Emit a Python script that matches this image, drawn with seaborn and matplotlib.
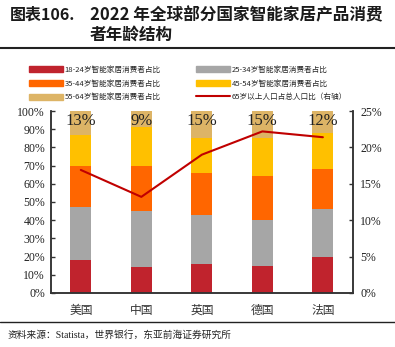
#!/usr/bin/env python3
"""2022 smart home consumer age structure by country: stacked bars + line on twin axis."""

import numpy as np
import pandas as pd
import seaborn as sns
import matplotlib.pyplot as plt

# --- data ---
countries = ['美国', '中国', '英国', '德国', '法国']
age_18_24 = [18, 14, 16, 15, 20]
age_25_34 = [29, 31, 27, 25, 26]
age_35_44 = [23, 25, 23, 24, 22]
age_45_54 = [17, 21, 19, 21, 20]
age_55_64 = [13, 9, 15, 15, 12]
over_65_share = [16.9, 13.2, 19.0, 22.2, 21.4]

series_names = [
    '18-24岁智能家居消费者占比',
    '25-34岁智能家居消费者占比',
    '35-44岁智能家居消费者占比',
    '45-54岁智能家居消费者占比',
    '55-64岁智能家居消费者占比',
]
line_name = '65岁以上人口占总人口比（右轴）'
COLORS = ['#C0232D', '#A6A6A6', '#FF6600', '#FFC000', '#DDB466']
LINE_COLOR = '#C00000'

sns.set_theme(style='white')
plt.rcParams['font.family'] = ['Liberation Serif', 'Noto Sans CJK SC', 'DejaVu Sans']
CJK = ['Noto Sans CJK SC', 'DejaVu Sans']

df = pd.DataFrame({'country': countries})
for name, vals in zip(series_names, [age_18_24, age_25_34, age_35_44, age_45_54, age_55_64]):
    df[name] = vals

fig = plt.figure(figsize=(3.95, 3.47), dpi=100)
ax = fig.add_axes([0.128, 0.156, 0.766, 0.524])

# stacked bars: draw cumulative totals from the top down so the bars overlap correctly
cum = df[series_names].cumsum(axis=1)
handles = []
for name, color in reversed(list(zip(series_names, COLORS))):
    sns.barplot(x=df['country'], y=cum[name], color=color, width=0.35,
                saturation=1, ax=ax, zorder=2, edgecolor='none')
    handles.insert(0, plt.Rectangle((0, 0), 1, 1, color=color, label=name))

# label of the top segment
for i, v in enumerate(age_55_64):
    ax.text(i, 94.5, f'{v}%', ha='center', va='center', fontsize=12,
            family='Liberation Serif', color='#222222', zorder=5)

ax.set_ylim(0, 100)
ax.set_xlim(-0.5, 4.5)
ax.set_yticks(np.arange(0, 101, 10))
ax.set_yticklabels([f'{t}%' for t in range(0, 101, 10)], fontsize=8.5, color='#222222')
ax.set_xlabel('')
ax.set_ylabel('')
ax.set_xticks(range(len(countries)))
ax.set_xticklabels(countries, family=CJK, fontsize=8.5, color='#333333')
ax.tick_params(axis='x', length=0, pad=8)
ax.tick_params(axis='y', direction='in', length=3, width=1, color='#333333', pad=4)

ax2 = ax.twinx()
sns.lineplot(x=list(range(len(countries))), y=over_65_share, color=LINE_COLOR,
             linewidth=1.5, ax=ax2, zorder=4)
ax2.set_ylim(0, 25)
ax2.set_yticks(np.arange(0, 26, 5))
ax2.set_yticklabels([f'{t}%' for t in range(0, 26, 5)], fontsize=8.5, color='#222222')
ax2.tick_params(axis='y', direction='in', length=3, width=1, color='#333333', pad=5)
ax2.set_ylabel('')

for a in (ax, ax2):
    a.spines['top'].set_visible(False)
    for s in ('left', 'right', 'bottom'):
        a.spines[s].set_color('#333333')
        a.spines[s].set_linewidth(1.1)

line_handle = plt.Line2D([0], [0], color=LINE_COLOR, linewidth=1.5, label=line_name)
leg_handles = handles + [line_handle]
# order so that the 2-column legend reads row-wise
order = [0, 2, 4, 1, 3, 5]
fig.legend([leg_handles[i] for i in order], [leg_handles[i].get_label() for i in order],
           ncol=2, loc='upper left', bbox_to_anchor=(0.055, 0.83), frameon=False,
           prop={'family': CJK, 'size': 5.5}, handlelength=4.5, handleheight=0.9,
           columnspacing=4.6, labelspacing=0.75, handletextpad=0.2)

# title block
fig.text(0.025, 0.957, '图表106.', fontsize=11.5, fontweight='bold', family=CJK,
         color='#1a1a1a', va='center')
fig.text(0.228, 0.957, '2022 年全球部分国家智能家居产品消费', fontsize=12,
         fontweight='bold', family=CJK, color='#1a1a1a', va='center')
fig.text(0.228, 0.899, '者年龄结构', fontsize=12, fontweight='bold', family=CJK,
         color='#1a1a1a', va='center')
fig.add_artist(plt.Line2D([0.0, 1.0], [0.862, 0.862], color='#222222', linewidth=1.5))

# footer
fig.add_artist(plt.Line2D([0.0, 1.0], [0.072, 0.072], color='#222222', linewidth=1.0))
fig.text(0.02, 0.035, '资料来源：Statista，世界银行，东亚前海证券研究所', fontsize=7,
         family=['Liberation Serif', 'Noto Sans CJK SC'], color='#222222', va='center')

fig.savefig('out.png', dpi=100)
